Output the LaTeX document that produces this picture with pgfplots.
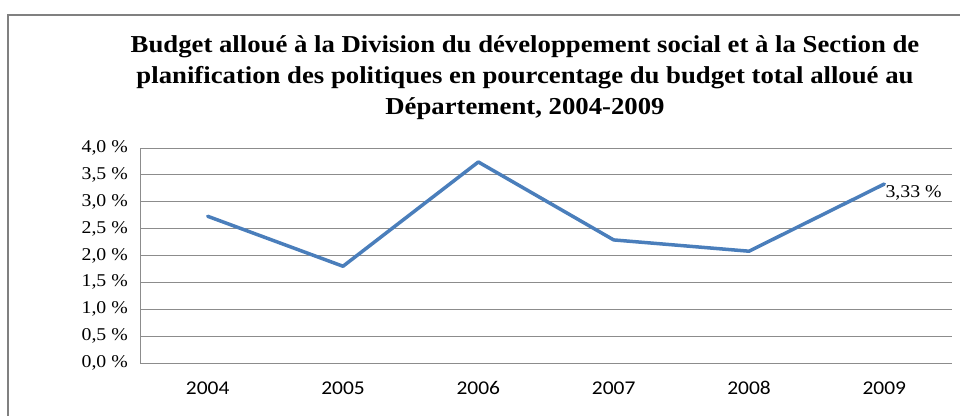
\documentclass[border=0pt]{standalone}
\usepackage{fontspec}
\setmainfont[FakeStretch=1.1]{Liberation Serif}
\newfontfamily\xfont[FakeStretch=1.1]{Carlito}
\usepackage{pgfplots}
\pgfplotsset{compat=1.18}
\definecolor{serie}{HTML}{4A7EBB}
\definecolor{gridc}{HTML}{8C8C8C}
\definecolor{framec}{HTML}{808080}
\begin{document}
\begin{tikzpicture}[x=1pt,y=1pt]
\draw[draw=framec, line width=2pt] (8,-15) rectangle (990,-440);
\begin{scope}[every node/.style={font=\fontsize{24.3}{31}\selectfont\bfseries, anchor=base, inner sep=0pt}]
\node at (525,-52) {Budget alloué à la Division du développement social et à la Section de};
\node at (525,-83) {planification des politiques en pourcentage du budget total alloué au};
\node at (525,-114) {Département, 2004-2009};
\end{scope}
\begin{axis}[
  at={(140pt,-363pt)}, anchor=south west,
  scale only axis, width=812pt, height=215pt,
  xmin=-0.5, xmax=5.5, ymin=0, ymax=4,
  axis lines*=left,
  axis line style={gridc, line width=1pt, -},
  ymajorgrids, grid style={gridc, line width=1pt},
  major tick length=0pt,
  xtick={0,1,2,3,4,5},
  xticklabels={2004,2005,2006,2007,2008,2009},
  ytick={0,0.5,1,1.5,2,2.5,3,3.5,4},
  yticklabels={{0,0 \%},{0,5 \%},{1,0 \%},{1,5 \%},{2,0 \%},{2,5 \%},{3,0 \%},{3,5 \%},{4,0 \%}},
  xticklabel style={font=\xfont\fontsize{19.5}{20}\selectfont, yshift=-15pt},
  yticklabel style={font=\fontsize{18}{20}\selectfont, inner sep=0pt, xshift=-12pt},
  clip=false,
]
\addplot[serie, line width=3.5pt, line join=round, line cap=round] coordinates {
  (0,2.73) (1,1.80) (2,3.74) (3,2.29) (4,2.08) (5,3.33)
};
\node[anchor=north west, inner sep=1pt, font=\fontsize{18}{20}\selectfont] at (axis cs:5,3.33) {3,33 \%};
\end{axis}
\pgfresetboundingbox
\path[use as bounding box] (0,0) rectangle (960,-415);
\end{tikzpicture}
\end{document}
